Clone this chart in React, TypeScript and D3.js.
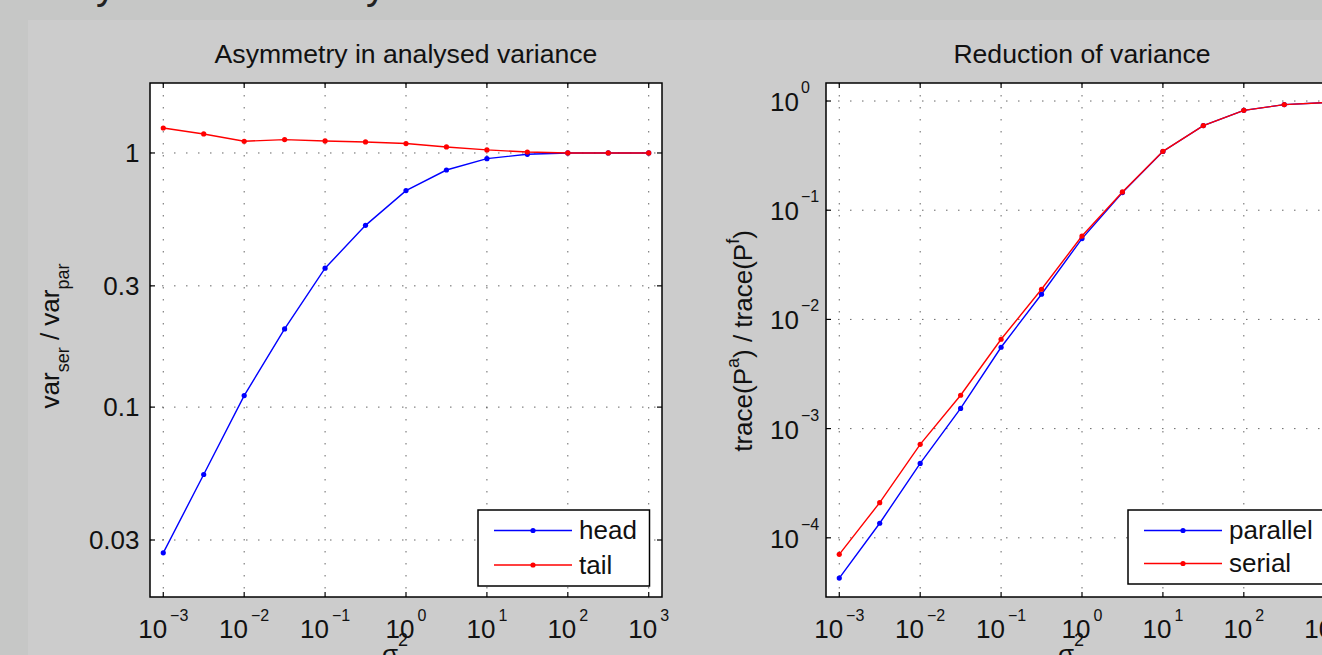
import React from "react";
import * as d3 from "d3";

// sigma^2 sample points (half decades)
const sigma2 = [0.001, 0.00316, 0.01, 0.0316, 0.1, 0.316, 1, 3.16, 10, 31.6, 100, 316, 1000];

// left panel: var_ser / var_par
const headRatio = [0.0267, 0.0543, 0.111, 0.203, 0.352, 0.519, 0.711, 0.857, 0.95, 0.988, 1.0, 1.0, 1.0];
const tailRatio = [1.254, 1.188, 1.112, 1.129, 1.115, 1.105, 1.089, 1.056, 1.028, 1.009, 1.0, 1.0, 1.0];

// right panel: trace(Pa) / trace(Pf)
const parallelTrace = [4.28e-5, 1.36e-4, 4.8e-4, 1.53e-3, 5.56e-3, 0.017, 0.055, 0.145, 0.345, 0.596, 0.822, 0.927, 0.966];
const serialTrace = [7.06e-5, 2.1e-4, 7.18e-4, 2.02e-3, 6.58e-3, 0.0189, 0.058, 0.147, 0.346, 0.596, 0.822, 0.927, 0.966];

const xTickExps = [-3, -2, -1, 0, 1, 2, 3];
const leftYTicks = [0.03, 0.1, 0.3, 1];
const leftYTickLabels = ["0.03", "0.1", "0.3", "1"];
const rightYTickExps = [-4, -3, -2, -1, 0];

const W = 1322;
const H = 655;
const FONT = "'Liberation Sans', Arial, Helvetica, sans-serif";
const TOP = 83;
const BOTTOM = 597;
const PW = 512;

function supText(e) {
    return (e < 0 ? "\u2212" : "") + Math.abs(e);
}

function drawPlot(svg, cfg) {
    const L = cfg.left;
    const R = L + PW;
    const g = svg.append("g");

    const x = d3.scaleLog().domain([Math.pow(10, -3.164), Math.pow(10, 3.164)]).range([L, R]);
    const y = d3.scaleLog().domain(cfg.yDomain).range([BOTTOM, TOP]);

    // axes background
    g.append("rect")
        .attr("x", L)
        .attr("y", TOP)
        .attr("width", PW)
        .attr("height", BOTTOM - TOP)
        .attr("fill", "#ffffff");

    // dotted grid
    const grid = g.append("g")
        .attr("stroke", "#333")
        .attr("stroke-opacity", 0.75)
        .attr("stroke-width", 1)
        .attr("stroke-dasharray", "1.5,10.5");
    grid.selectAll(".vg")
        .data(xTickExps)
        .join("line")
        .attr("x1", (e) => x(Math.pow(10, e)))
        .attr("x2", (e) => x(Math.pow(10, e)))
        .attr("y1", TOP)
        .attr("y2", BOTTOM);
    grid.selectAll(".hg")
        .data(cfg.yTicks)
        .join("line")
        .attr("x1", L)
        .attr("x2", R)
        .attr("y1", (v) => y(v))
        .attr("y2", (v) => y(v));

    // data series
    cfg.series.forEach((s) => {
        const pts = sigma2.map((v, i) => [v, s.values[i]]);
        g.append("path")
            .datum(pts)
            .attr("fill", "none")
            .attr("stroke", s.color)
            .attr("stroke-width", 1.4)
            .attr("d", d3.line().x((d) => x(d[0])).y((d) => y(d[1])));
        g.append("g")
            .selectAll("circle")
            .data(pts)
            .join("circle")
            .attr("cx", (d) => x(d[0]))
            .attr("cy", (d) => y(d[1]))
            .attr("r", 2.6)
            .attr("fill", s.color);
    });

    // box
    g.append("rect")
        .attr("x", L)
        .attr("y", TOP)
        .attr("width", PW)
        .attr("height", BOTTOM - TOP)
        .attr("fill", "none")
        .attr("stroke", "#000")
        .attr("stroke-width", 1.5);

    // tick marks (inside, on all four sides)
    const ticks = g.append("g").attr("stroke", "#000").attr("stroke-width", 1.2);
    xTickExps.forEach((e) => {
        const xx = x(Math.pow(10, e));
        ticks.append("line").attr("x1", xx).attr("x2", xx).attr("y1", BOTTOM).attr("y2", BOTTOM - 5);
        ticks.append("line").attr("x1", xx).attr("x2", xx).attr("y1", TOP).attr("y2", TOP + 5);
    });
    cfg.yTicks.forEach((v) => {
        const yy = y(v);
        ticks.append("line").attr("x1", L).attr("x2", L + 5).attr("y1", yy).attr("y2", yy);
        ticks.append("line").attr("x1", R).attr("x2", R - 5).attr("y1", yy).attr("y2", yy);
    });

    // x tick labels 10^n
    const xl = g.append("g").attr("font-family", FONT).attr("fill", "#111");
    xTickExps.forEach((e) => {
        const t = xl.append("text")
            .attr("x", x(Math.pow(10, e)))
            .attr("y", 637.7)
            .attr("text-anchor", "middle")
            .attr("font-size", 26);
        t.append("tspan").text("10");
        t.append("tspan").attr("dx", 3).attr("dy", -17).attr("font-size", 16).text(supText(e));
    });

    // y tick labels
    cfg.drawYLabels(g, y);

    // title
    g.append("text")
        .attr("x", L + PW / 2)
        .attr("y", 63)
        .attr("text-anchor", "middle")
        .attr("font-family", FONT)
        .attr("font-size", 26.6)
        .attr("fill", "#111")
        .text(cfg.title);

    // x label sigma^2 (mostly below the visible area)
    const xlab = g.append("text")
        .attr("x", L + 232)
        .attr("y", 663)
        .attr("font-family", FONT)
        .attr("font-size", 26)
        .attr("fill", "#111");
    xlab.append("tspan").text("\u03c3");
    xlab.append("tspan").attr("dy", -17).attr("font-size", 18).text("2");

    // y label
    cfg.drawYTitle(g);

    // legend
    const lg = g.append("g").attr("font-family", FONT);
    lg.append("rect")
        .attr("x", cfg.legend.x)
        .attr("y", cfg.legend.y)
        .attr("width", cfg.legend.w)
        .attr("height", cfg.legend.h)
        .attr("fill", "#fff")
        .attr("stroke", "#000")
        .attr("stroke-width", 1.5);
    cfg.series.forEach((s, i) => {
        const ry = cfg.legend.y + 20.5 + i * cfg.legend.step;
        const lx = cfg.legend.x;
        lg.append("line")
            .attr("x1", lx + 16)
            .attr("x2", lx + 94)
            .attr("y1", ry)
            .attr("y2", ry)
            .attr("stroke", s.color)
            .attr("stroke-width", 1.4);
        lg.append("circle").attr("cx", lx + 55).attr("cy", ry).attr("r", 2.6).attr("fill", s.color);
        lg.append("text")
            .attr("x", lx + 101)
            .attr("y", ry + 8.8)
            .attr("font-size", 26)
            .attr("fill", "#111")
            .text(s.name);
    });
}

export default function App() {
    const ref = React.useRef(null);

    React.useEffect(() => {
        document.body.style.margin = "0";
        document.body.style.overflow = "hidden";
        const svg = d3.select(ref.current);
        svg.selectAll("*").remove();

        // slide background
        svg.append("rect").attr("width", W).attr("height", H).attr("fill", "#c6c7c6");
        svg.append("rect")
            .attr("x", 28)
            .attr("y", 20)
            .attr("width", W - 28)
            .attr("height", H - 20)
            .attr("fill", "#cccccc");

        // descenders of the slide heading cut off at the top
        [96, 366].forEach((xx) => {
            svg.append("text")
                .attr("x", xx)
                .attr("y", -1)
                .attr("font-family", FONT)
                .attr("font-size", 40)
                .attr("fill", "#222")
                .text("y");
        });

        drawPlot(svg, {
            left: 150,
            yDomain: [0.0179, 1.885],
            yTicks: leftYTicks,
            title: "Asymmetry in analysed variance",
            series: [
                { name: "head", color: "#0000ff", values: headRatio },
                { name: "tail", color: "#ff0000", values: tailRatio },
            ],
            legend: { x: 478, y: 510, w: 171.5, h: 76, step: 34.5 },
            drawYLabels: (g, y) => {
                g.append("g")
                    .selectAll("text")
                    .data(leftYTicks)
                    .join("text")
                    .attr("x", 139.5)
                    .attr("y", (v) => y(v) + 9.3)
                    .attr("text-anchor", "end")
                    .attr("font-family", FONT)
                    .attr("font-size", 26)
                    .attr("fill", "#111")
                    .text((v, i) => leftYTickLabels[i]);
            },
            drawYTitle: (g) => {
                const t = g.append("text")
                    .attr("transform", "translate(58.5,336) rotate(-90)")
                    .attr("text-anchor", "middle")
                    .attr("font-family", FONT)
                    .attr("font-size", 26)
                    .attr("fill", "#111");
                t.append("tspan").text("var");
                t.append("tspan").attr("dy", 10).attr("font-size", 18).text("ser");
                t.append("tspan").attr("dy", -10).text(" / var");
                t.append("tspan").attr("dy", 10).attr("font-size", 18).text("par");
            },
        });

        drawPlot(svg, {
            left: 826,
            yDomain: [Math.pow(10, -4.542), Math.pow(10, 0.165)],
            yTicks: rightYTickExps.map((e) => Math.pow(10, e)),
            title: "Reduction of variance",
            series: [
                { name: "parallel", color: "#0000ff", values: parallelTrace },
                { name: "serial", color: "#ff0000", values: serialTrace },
            ],
            legend: { x: 1128, y: 510, w: 210, h: 74, step: 33 },
            drawYLabels: (g, y) => {
                rightYTickExps.forEach((e) => {
                    const t = g.append("text")
                        .attr("x", 770)
                        .attr("y", y(Math.pow(10, e)) + 10)
                        .attr("font-family", FONT)
                        .attr("font-size", 26)
                        .attr("fill", "#111");
                    t.append("tspan").text("10");
                    t.append("tspan").attr("dx", 2).attr("dy", -18).attr("font-size", 16).text(supText(e));
                });
            },
            drawYTitle: (g) => {
                const t = g.append("text")
                    .attr("transform", "translate(752,341) rotate(-90)")
                    .attr("text-anchor", "middle")
                    .attr("font-family", FONT)
                    .attr("font-size", 26)
                    .attr("fill", "#111");
                t.append("tspan").text("trace(P");
                t.append("tspan").attr("dy", -13).attr("font-size", 18).text("a");
                t.append("tspan").attr("dy", 13).text(") / trace(P");
                t.append("tspan").attr("dy", -13).attr("font-size", 18).text("f");
                t.append("tspan").attr("dy", 13).text(")");
            },
        });
    }, []);

    return <svg ref={ref} width={W} height={H} style={{ display: "block" }} />;
}
